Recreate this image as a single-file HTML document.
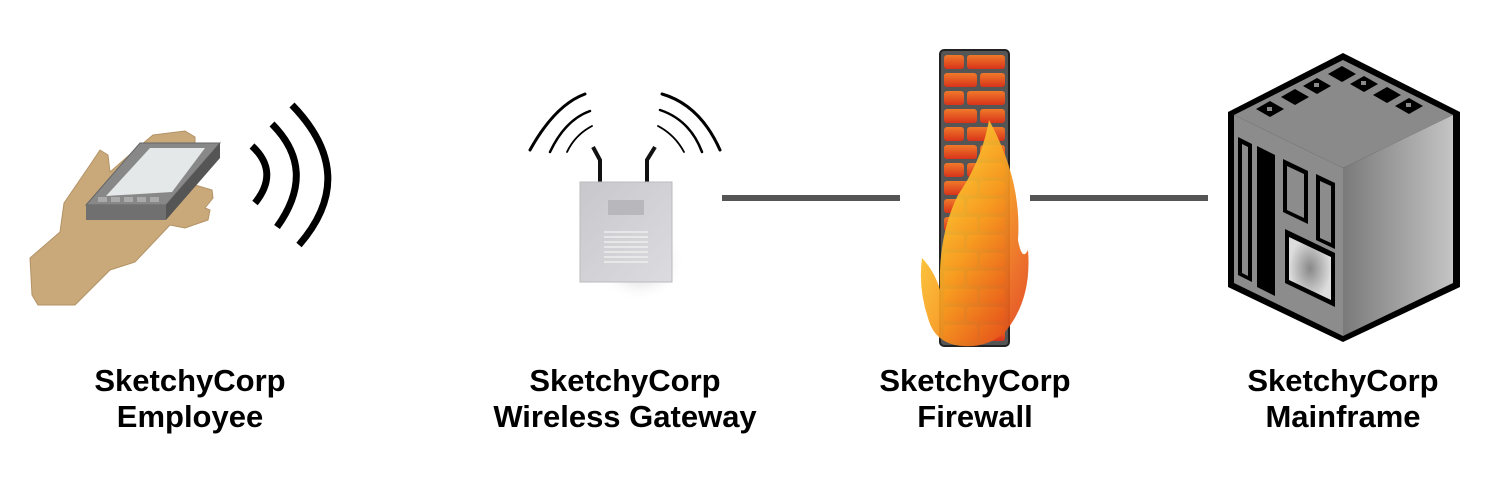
<!DOCTYPE html>
<html><head><style>
html,body{margin:0;padding:0;background:#fff;}
svg{display:block;}
text{font-family:"Liberation Sans",Arial,sans-serif;font-weight:bold;font-size:31px;fill:#000;text-anchor:middle;}
</style></head><body>
<svg width="1500" height="495" viewBox="0 0 1500 495" xmlns="http://www.w3.org/2000/svg">
<defs>
<linearGradient id="rb" x1="0" y1="0" x2="0" y2="1"><stop offset="0" stop-color="#f07a2a"/><stop offset="1" stop-color="#d8331a"/></linearGradient>
<linearGradient id="fl" x1="0" y1="0" x2="1" y2="1"><stop offset="0" stop-color="#ffee44"/><stop offset="0.5" stop-color="#f8a020"/><stop offset="1" stop-color="#e03a18"/></linearGradient>
<linearGradient id="side" x1="0" y1="0" x2="1" y2="0"><stop offset="0" stop-color="#7a7a7a"/><stop offset="1" stop-color="#c4c4c4"/></linearGradient>
<radialGradient id="scr"><stop offset="0" stop-color="#888"/><stop offset="1" stop-color="#ddd"/></radialGradient>
<linearGradient id="rt" x1="0" y1="0" x2="1" y2="1"><stop offset="0" stop-color="#c8c8cc"/><stop offset="1" stop-color="#dcdce0"/></linearGradient>
<radialGradient id="sh"><stop offset="0" stop-color="#999" stop-opacity="0.8"/><stop offset="1" stop-color="#fff" stop-opacity="0"/></radialGradient>
</defs>

<path d="M30,258 L60,232 L64,203 L90,165 L100,150 L108,155 L110,172 L135,150 L153,135 L185,131 L195,137 L195,185 L212,190 L213,198 L205,208 L210,210 L208,220 L185,228 L170,225 L135,262 L110,270 L75,305 L38,305 L32,295 Z" fill="#c9a87a" stroke="#b39366" stroke-width="1"/>
<polygon points="86,205 140,143 220,143 166,205" fill="#888" stroke="#666"/>
<polygon points="106,196 150,148 205,148 172,192" fill="#e5e8e8"/>
<polygon points="86,205 166,205 166,220 86,220" fill="#707070"/>
<polygon points="166,205 220,143 220,158 166,220" fill="#555"/>
<g fill="#aaa"><rect x="98" y="197" width="9" height="5"/><rect x="111" y="197" width="9" height="5"/><rect x="124" y="197" width="9" height="5"/><rect x="137" y="197" width="9" height="5"/><rect x="150" y="197" width="9" height="5"/></g>
<g fill="none" stroke="#000" stroke-width="7">
<path d="M252,146 Q280,172 255,203"/>
<path d="M272,124 Q318,170 277,227"/>
<path d="M292,105 Q360,175 299,245"/>
</g>

<ellipse cx="640" cy="262" rx="45" ry="40" fill="url(#sh)"/>
<g fill="none" stroke="#000" stroke-linecap="round">
<path d="M530,150 Q555,105 585,94" stroke-width="3"/>
<path d="M550,152 Q565,120 590,111" stroke-width="2.5"/>
<path d="M567,152 Q575,135 592,126" stroke-width="1.8"/>
<path d="M662,94 Q700,105 720,150" stroke-width="3"/>
<path d="M660,110 Q690,120 702,152" stroke-width="2.5"/>
<path d="M658,126 Q675,135 684,152" stroke-width="1.8"/>
</g>
<g fill="none" stroke="#111" stroke-width="4">
<path d="M593,147 L600,160 L600,183"/><path d="M655,147 L647,160 L647,183"/>
</g>
<rect x="580" y="182" width="92" height="100" fill="url(#rt)" stroke="#bbb"/>
<rect x="608" y="200" width="36" height="15" fill="#b8b8bc"/>
<g stroke="#eee" stroke-width="1.5"><line x1="604" y1="232" x2="648" y2="232"/><line x1="604" y1="237" x2="648" y2="237"/><line x1="604" y1="242" x2="648" y2="242"/><line x1="604" y1="247" x2="648" y2="247"/><line x1="604" y1="252" x2="648" y2="252"/><line x1="604" y1="257" x2="648" y2="257"/><line x1="604" y1="262" x2="648" y2="262"/></g>

<rect x="722" y="195" width="178" height="6" fill="#555"/>
<rect x="1030" y="195" width="178" height="6" fill="#555"/>

<rect x="940" y="50" width="69" height="296" rx="4" fill="#555" stroke="#222" stroke-width="2"/>
<g fill="url(#rb)">
<rect x="944" y="55" width="20" height="14" rx="3"/><rect x="967" y="55" width="38" height="14" rx="3"/>
<rect x="944" y="73" width="33" height="14" rx="3"/><rect x="980" y="73" width="25" height="14" rx="3"/>
<rect x="944" y="91" width="20" height="14" rx="3"/><rect x="967" y="91" width="38" height="14" rx="3"/>
<rect x="944" y="109" width="33" height="14" rx="3"/><rect x="980" y="109" width="25" height="14" rx="3"/>
<rect x="944" y="127" width="20" height="14" rx="3"/><rect x="967" y="127" width="38" height="14" rx="3"/>
<rect x="944" y="145" width="33" height="14" rx="3"/><rect x="980" y="145" width="25" height="14" rx="3"/>
<rect x="944" y="163" width="20" height="14" rx="3"/><rect x="967" y="163" width="38" height="14" rx="3"/>
<rect x="944" y="181" width="33" height="14" rx="3"/><rect x="980" y="181" width="25" height="14" rx="3"/>
<rect x="944" y="199" width="20" height="14" rx="3"/><rect x="967" y="199" width="38" height="14" rx="3"/>
<rect x="944" y="217" width="33" height="14" rx="3"/><rect x="980" y="217" width="25" height="14" rx="3"/>
<rect x="944" y="235" width="20" height="14" rx="3"/><rect x="967" y="235" width="38" height="14" rx="3"/>
<rect x="944" y="253" width="33" height="14" rx="3"/><rect x="980" y="253" width="25" height="14" rx="3"/>
<rect x="944" y="271" width="20" height="14" rx="3"/><rect x="967" y="271" width="38" height="14" rx="3"/>
<rect x="944" y="289" width="33" height="14" rx="3"/><rect x="980" y="289" width="25" height="14" rx="3"/>
<rect x="944" y="307" width="20" height="14" rx="3"/><rect x="967" y="307" width="38" height="14" rx="3"/>
<rect x="944" y="325" width="33" height="16" rx="3"/><rect x="980" y="325" width="25" height="16" rx="3"/>
</g>
<path d="M989,120 Q1022,180 1018,240 Q1022,262 1028,250 Q1032,300 1005,332 Q988,348 962,346 Q935,344 928,318 Q918,288 922,258 Q935,272 940,290 Q938,235 958,195 Q982,160 989,120 Z" fill="url(#fl)" opacity="0.93"/>

<polygon points="1343,53 1460,112 1460,287 1343,342 1228,287 1228,112" fill="#000"/>
<polygon points="1343,60 1453,115 1343,168 1234,115" fill="#8a8a8a"/>
<polygon points="1234,115 1343,168 1343,336 1234,283" fill="#8c8c8c"/>
<polygon points="1343,168 1453,115 1453,283 1343,336" fill="url(#side)"/>
<g fill="#000">
<polygon points="1256,109 1270,101 1284,109 1270,117"/><polygon points="1281,97 1295,89 1309,97 1295,105"/><polygon points="1303,86 1317,78 1331,86 1317,94"/><polygon points="1328,74 1342,66 1356,74 1342,82"/>
<polygon points="1350,84 1364,76 1378,84 1364,92"/><polygon points="1373,95 1387,87 1401,95 1387,103"/><polygon points="1395,106 1409,98 1423,106 1409,114"/>
<polygon points="1238,137 1252,144 1252,282 1238,275"/><polygon points="1257,146 1275,155 1275,296 1257,287"/>
<polygon points="1283,159 1308,171 1308,224 1283,212"/><polygon points="1316,174 1335,183 1335,249 1316,240"/>
<polygon points="1285,229 1335,253 1335,307 1285,283"/>
</g>
<g fill="#8c8c8c"><polygon points="1242,144 1248,147 1248,276 1242,273"/><polygon points="1287,166 1304,174 1304,218 1287,210"/><polygon points="1320,181 1331,186 1331,243 1320,238"/></g>
<polygon points="1289,237 1331,257 1331,300 1289,280" fill="url(#scr)"/>
<g fill="#8a8a8a"><rect x="1267" y="107" width="5" height="4"/><rect x="1314" y="83" width="5" height="4"/><rect x="1361" y="81" width="5" height="4"/><rect x="1406" y="103" width="5" height="4"/></g>

<text x="190" y="391">SketchyCorp</text><text x="190" y="427">Employee</text>
<text x="625" y="391">SketchyCorp</text><text x="625" y="427">Wireless Gateway</text>
<text x="975" y="391">SketchyCorp</text><text x="975" y="427">Firewall</text>
<text x="1343" y="391">SketchyCorp</text><text x="1343" y="427">Mainframe</text>
</svg>
</body></html>
